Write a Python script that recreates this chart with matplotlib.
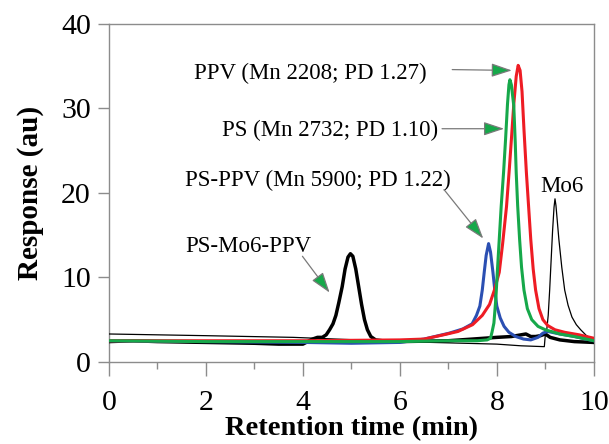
import matplotlib
matplotlib.use("Agg")
import matplotlib.pyplot as plt
from matplotlib.ticker import MultipleLocator

# ---- data ----
ppv_x = [0.0, 2.0, 4.0, 6.0, 6.5, 6.9, 7.2, 7.5, 7.7, 7.85, 7.95, 8.05, 8.12, 8.2, 8.26,
         8.3, 8.35, 8.4, 8.44, 8.48, 8.52, 8.56, 8.61, 8.66, 8.7, 8.75, 8.8, 8.87,
         8.95, 9.05, 9.2, 9.4, 9.7, 10.0]
ppv_y = [2.5, 2.5, 2.5, 2.6, 2.7, 3.2, 3.6, 4.4, 5.5, 6.8, 8.5, 10.6, 14.0, 18.4, 23.0,
         26.3, 30.5, 33.8, 35.1, 34.5, 32.0, 27.5, 22.4, 18.0, 14.5, 11.0, 8.5, 6.3,
         5.0, 4.3, 3.8, 3.5, 3.2, 2.8]

ps_x = [0.0, 2.0, 4.0, 6.0, 7.0, 7.6, 7.8, 7.87, 7.9, 7.94, 7.98, 8.01, 8.05, 8.09,
        8.14, 8.18, 8.22, 8.25, 8.27, 8.3, 8.35, 8.38, 8.4, 8.43, 8.47, 8.51, 8.56,
        8.63, 8.72, 8.85, 9.0, 9.3, 9.6, 10.0]
ps_y = [2.5, 2.4, 2.4, 2.4, 2.5, 2.5, 2.6, 2.8, 3.5, 4.6, 7.5, 10.6, 14.5, 18.4,
        22.5, 26.3, 30.5, 32.8, 33.4, 32.8, 30.3, 26.0, 22.4, 18.5, 14.5, 11.2, 8.5,
        6.3, 5.0, 4.2, 3.8, 3.3, 3.0, 2.5]

psppv_x = [0.0, 2.0, 4.0, 5.0, 6.0, 6.5, 7.02, 7.3, 7.49, 7.58, 7.65, 7.7, 7.74, 7.78,
           7.83, 7.87, 7.92, 7.96, 8.0, 8.07, 8.15, 8.25, 8.39, 8.55, 8.7, 8.85,
           8.95, 9.05, 9.3, 9.6, 10.0]
psppv_y = [2.5, 2.4, 2.3, 2.2, 2.3, 2.7, 3.4, 3.9, 4.5, 5.5, 6.6, 8.5, 10.6, 12.6,
           14.0, 13.0, 10.6, 8.4, 6.6, 5.2, 4.2, 3.5, 3.0, 2.7, 2.6, 2.9,
           3.4, 3.6, 3.3, 3.0, 2.5]

mo6_x = [0.0, 2.0, 3.8, 6.0, 8.0, 8.5, 8.98, 9.0, 9.03, 9.06, 9.09, 9.12, 9.15, 9.18,
         9.2, 9.22, 9.25, 9.28, 9.34, 9.4, 9.47, 9.55, 9.64, 9.73, 9.85, 10.0]
mo6_y = [3.3, 3.1, 2.9, 2.4, 2.1, 1.9, 1.8, 3.2, 3.8, 5.5, 8.5, 12.0, 15.5, 18.3,
         19.3, 18.5, 16.5, 14.5, 11.2, 8.5, 6.7, 5.3, 4.4, 3.8, 3.1, 2.6]

psmo6ppv_x = [0.0, 0.5, 1.0, 2.0, 3.0, 3.5, 4.0, 4.2, 4.3, 4.4, 4.48, 4.55, 4.62, 4.68,
              4.74, 4.81, 4.87, 4.93, 4.98, 5.03, 5.09, 5.15, 5.21, 5.27, 5.33, 5.4,
              5.5, 5.64, 6.0, 7.0, 7.5, 8.0, 8.3, 8.5, 8.6, 8.7, 8.8, 8.9, 9.0,
              9.1, 9.3, 9.6, 10.0]
psmo6ppv_y = [2.4, 2.5, 2.4, 2.3, 2.2, 2.1, 2.1, 2.7, 2.9, 2.9, 3.2, 3.8, 4.5, 5.5,
              7.0, 8.9, 11.0, 12.4, 12.8, 12.5, 11.0, 8.9, 6.8, 5.0, 3.8, 3.0,
              2.6, 2.5, 2.4, 2.5, 2.7, 2.9, 3.0, 3.2, 3.3, 3.0, 3.0, 3.1, 3.3,
              2.9, 2.6, 2.4, 2.3]

x_ticks = [0, 2, 4, 6, 8, 10]
y_ticks = [0, 10, 20, 30, 40]

labels = ["PPV (Mn 2208; PD 1.27)", "PS (Mn 2732; PD 1.10)",
          "PS-PPV (Mn 5900; PD 1.22)", "PS-Mo6-PPV", "Mo6"]

# ---- figure ----
plt.rcParams['font.family'] = ['Liberation Serif', 'DejaVu Serif']
fig = plt.figure(figsize=(6.09, 4.44), dpi=100)
ax = fig.add_axes([0.179, 0.185, 0.796, 0.761])

ax.plot(mo6_x, mo6_y, color='black', lw=0.9, zorder=3)
ax.plot(psmo6ppv_x, psmo6ppv_y, color='black', lw=2.5, zorder=3)
ax.plot(psppv_x, psppv_y, color='#2b4fb2', lw=2.2, zorder=4)
ax.plot(ppv_x, ppv_y, color='#ee1c24', lw=2.2, zorder=5)
ax.plot(ps_x, ps_y, color='#16a84a', lw=2.2, zorder=6)

ax.set_xlim(0, 10)
ax.set_ylim(0, 40)
ax.set_xticks(x_ticks)
ax.set_yticks(y_ticks)
ax.xaxis.set_minor_locator(MultipleLocator(1))

grey = '#8c8c8c'
for s in ax.spines.values():
    s.set_color(grey)
    s.set_linewidth(1.0)
ax.tick_params(axis='both', which='major', direction='out', color=grey,
               width=1.0, labelsize=21.5, labelcolor='black')
ax.tick_params(axis='x', which='major', length=10, pad=10)
ax.tick_params(axis='x', which='minor', length=5, color=grey, width=1.0)
ax.tick_params(axis='y', which='major', length=8, pad=5)

ax.set_xlabel("Retention time (min)", fontsize=20.5, fontweight='bold', labelpad=0)
ax.set_ylabel("Response (au)", fontsize=21, fontweight='bold', labelpad=12)

def ann(xy, xytext):
    ap = dict(arrowstyle='-|>,head_length=0.9,head_width=0.3',
              facecolor='#16a84a', edgecolor='#7a7a7a',
              lw=0.9, shrinkA=0, shrinkB=0, mutation_scale=14)
    ax.annotate("", xy=xy, xytext=xytext, arrowprops=ap, zorder=7)

ax.text(1.76, 34.2, labels[0], fontsize=16.5, va='center', ha='left')
ann((8.31, 34.5), (7.08, 34.6))
ax.text(2.34, 27.4, labels[1], fontsize=16.5, va='center', ha='left')
ann((8.15, 27.6), (6.87, 27.6))
ax.text(1.56, 21.5, labels[2], fontsize=16.5, va='center', ha='left')
ann((7.72, 14.6), (6.91, 20.4))
ax.text(1.58, 13.7, labels[3], fontsize=16.5, va='center', ha='left')
ann((4.55, 8.2), (3.99, 12.5))
ax.text(8.89, 20.8, labels[4], fontsize=16.5, va='center', ha='left')

fig.savefig("out.png", dpi=100)
